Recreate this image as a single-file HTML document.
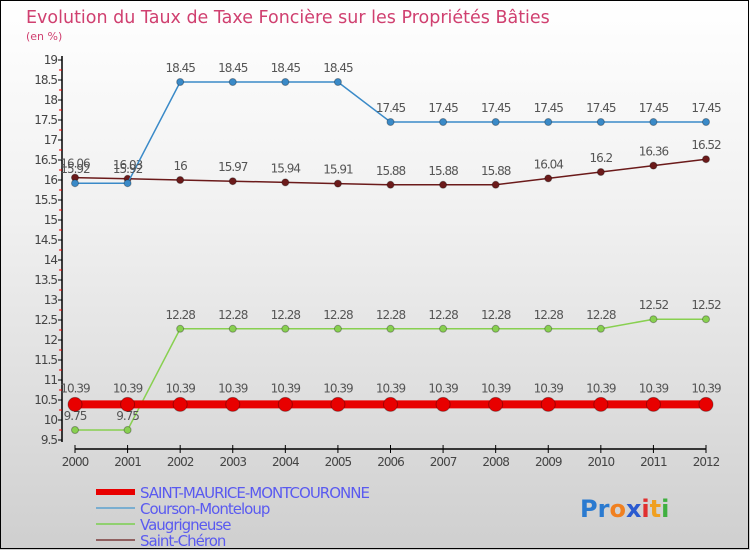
<!DOCTYPE html>
<html><head><meta charset="utf-8"><style>
body{margin:0;}
#c{width:750px;height:550px;position:relative;overflow:hidden;background:linear-gradient(#ffffff,#f0f0f0 40%,#cfcfcf);font-family:"DejaVu Sans","Liberation Sans",sans-serif;}
svg{position:absolute;left:0;top:0;}
</style></head><body>
<div id="c">
<svg id="s" width="750" height="550">
<rect x="0.5" y="0.5" width="748" height="548" fill="none" stroke="#000"/>
<text x="26" y="23" font-size="17.5" fill="#d04070">Evolution du Taux de Taxe Foncière sur les Propriétés Bâties</text>
<text x="26" y="40" font-size="11" fill="#d04070">(en %)</text>
</svg>
</div>
<script>
const years=[2000,2001,2002,2003,2004,2005,2006,2007,2008,2009,2010,2011,2012];
const yTicks=[9.5,10,10.5,11,11.5,12,12.5,13,13.5,14,14.5,15,15.5,16,16.5,17,17.5,18,18.5,19];
const stMaurice=[10.39,10.39,10.39,10.39,10.39,10.39,10.39,10.39,10.39,10.39,10.39,10.39,10.39];
const courson=[15.92,15.92,18.45,18.45,18.45,18.45,17.45,17.45,17.45,17.45,17.45,17.45,17.45];
const vaugrigneuse=[9.75,9.75,12.28,12.28,12.28,12.28,12.28,12.28,12.28,12.28,12.28,12.52,12.52];
const stCheron=[16.06,16.03,16,15.97,15.94,15.91,15.88,15.88,15.88,16.04,16.2,16.36,16.52];
const NS='http://www.w3.org/2000/svg';
const s=document.getElementById('s');
function X(i){return 75+i*(706-75)/(years.length-1);}
function Y(v){return 60+(19-v)*40;}
function el(t,a,p){const e=document.createElementNS(NS,t);for(const k in a)e.setAttribute(k,a[k]);(p||s).appendChild(e);return e;}
let a=el('line',{x1:62,y1:56,x2:62,y2:442,stroke:'#000','stroke-width':1.5});


a=el('line',{x1:75,y1:449,x2:706,y2:449,stroke:'#000','stroke-width':1.5});


yTicks.forEach(v=>{
 el('line',{x1:58,y1:Y(v),x2:62,y2:Y(v),stroke:'#000'});
 if(v<19)el('line',{x1:59,y1:Y(v+0.25),x2:62,y2:Y(v+0.25),stroke:'#e00'});
 const t=el('text',{x:57,y:Y(v)+4,'font-size':12,fill:'#444','text-anchor':'end','letter-spacing':'-1'});
 t.textContent=v;
 
 
});
years.forEach((y,i)=>{
 el('line',{x1:X(i),y1:445,x2:X(i),y2:453,stroke:'#000'});
 const t=el('text',{x:X(i),y:466,'font-size':12,fill:'#444','text-anchor':'middle','letter-spacing':'-1'});
 t.textContent=y;
 
 
});
function series(data,color,w,r,name,labelDy){
 const g=el('g',{});
 
 
 el('polyline',{points:data.map((v,i)=>X(i)+','+Y(v)).join(' '),fill:'none',stroke:color,'stroke-width':w},g);
 data.forEach((v,i)=>{
  const c=el('circle',{cx:X(i),cy:Y(v),r:r,fill:color,stroke:'rgba(0,0,0,0.3)'},g);
  
  
  const t=el('text',{x:X(i),y:Y(v)+labelDy,'font-size':12,fill:'#555','text-anchor':'middle','letter-spacing':'-1'},g);
  t.textContent=v;
  
  
 });
}
series(stCheron,'#6b1a1a',1.5,3.5,'saint-cheron',-10);
series(courson,'#3a8ac8',1.5,3.5,'courson',-10);
series(vaugrigneuse,'#88d050',1.5,3.5,'vaugrigneuse',-10);
series(stMaurice,'#e80000',8,7,'saint-maurice',-12);
const leg=[['SAINT-MAURICE-MONTCOURONNE','#e80000',6],['Courson-Monteloup','#7aaed0',2],['Vaugrigneuse','#90d070',2],['Saint-Chéron','#906060',2]];
leg.forEach((l,i)=>{
 const y=492+i*16;
 const g=el('g',{});
 
 
 el('line',{x1:96,y1:y,x2:135,y2:y,stroke:l[1],'stroke-width':l[2]},g);
 const t=el('text',{x:140,y:y+6,'font-size':15,fill:'#5a5af0','letter-spacing':'-1'},g);
 t.textContent=l[0];
});
const p=el('text',{x:580,y:517,'font-size':24,'font-weight':'bold'});


p.innerHTML='<tspan fill="#2a7ad0">Pr</tspan><tspan fill="#f08020">o</tspan><tspan fill="#2a5ad0">x</tspan><tspan fill="#e03030">i</tspan><tspan fill="#f0a020">t</tspan><tspan fill="#40b040">i</tspan>';
</script>
</body></html>
